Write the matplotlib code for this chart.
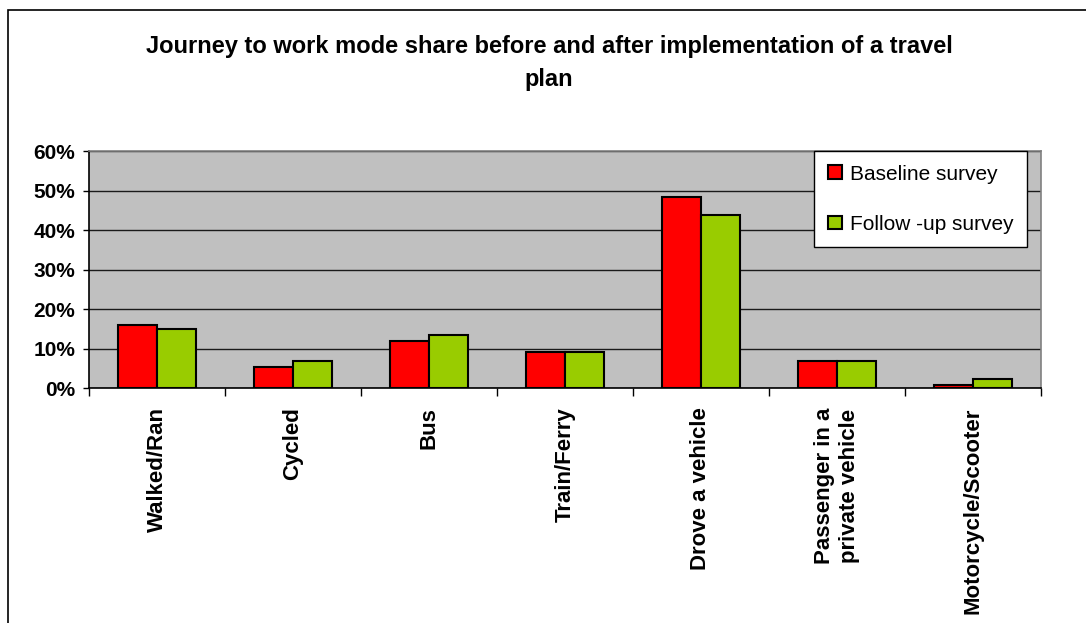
import numpy as np
import matplotlib
matplotlib.use("Agg")
import matplotlib.pyplot as plt
import matplotlib.ticker as ticker
from matplotlib.patches import Rectangle

plt.rcParams.update({
    "font.family": "Liberation Sans",
    "font.weight": "bold",
})

TITLE = "Journey to work mode share before and after implementation of a travel\nplan"

modes = [
    "Walked/Ran",
    "Cycled",
    "Bus",
    "Train/Ferry",
    "Drove a vehicle",
    "Passenger in a\nprivate vehicle",
    "Motorcycle/Scooter",
]
baseline = [16.0, 5.4, 11.8, 9.0, 48.3, 6.9, 0.8]
follow_up = [14.9, 6.9, 13.4, 9.0, 43.7, 6.9, 2.3]
series_names = ["Baseline survey", "Follow -up survey"]

RED = "#FF0000"
GREEN = "#99CC00"
PLOT_BG = "#C0C0C0"
BAR_W = 0.285

fig = plt.figure(figsize=(10.86, 6.23), dpi=100)
ax = fig.add_axes([89 / 1086, 1 - 388 / 623, (1041 - 89) / 1086, (388 - 151) / 623])
ax.set_facecolor(PLOT_BG)

centers = np.arange(len(modes)) + 0.5
ax.bar(centers - BAR_W / 2, baseline, BAR_W, color=RED, edgecolor="black",
       linewidth=1.5, label=series_names[0], zorder=3)
ax.bar(centers + BAR_W / 2, follow_up, BAR_W, color=GREEN, edgecolor="black",
       linewidth=1.5, label=series_names[1], zorder=3)

ax.set_xlim(0, len(modes))
ax.set_ylim(0, 60)

# y axis: percentages with black gridlines
ax.yaxis.set_major_locator(ticker.MultipleLocator(10))
ax.yaxis.set_major_formatter(ticker.FuncFormatter(lambda v, pos: f"{int(v)}%"))
ax.grid(axis="y", color="#1a1a1a", linewidth=1.0, zorder=1)
ax.set_axisbelow(True)
ax.tick_params(axis="y", length=4, width=1, pad=6, labelsize=15)

# x axis: ticks on category boundaries, labels in the middle
ax.xaxis.set_major_locator(ticker.FixedLocator(np.arange(len(modes) + 1)))
ax.xaxis.set_major_formatter(ticker.NullFormatter())
ax.xaxis.set_minor_locator(ticker.FixedLocator(centers))
ax.xaxis.set_minor_formatter(ticker.FixedFormatter(modes))
ax.tick_params(axis="x", which="major", length=6, width=1)
ax.tick_params(axis="x", which="minor", length=0, pad=14, labelsize=16)
for lbl in ax.get_xticklabels(minor=True):
    lbl.set_rotation(90)
    lbl.set_multialignment("center")

ax.spines["left"].set_color("black")
ax.spines["bottom"].set_color("black")
ax.spines["top"].set_color("#808080")
ax.spines["right"].set_color("#808080")
for s in ax.spines.values():
    s.set_linewidth(1.2)

leg = ax.legend(loc="upper right", bbox_to_anchor=(1027 / 1086, 1 - 151 / 623),
                bbox_transform=fig.transFigure, fontsize=15, frameon=True,
                fancybox=False, edgecolor="black", framealpha=1.0,
                handlelength=0.65, handleheight=0.65, handletextpad=0.4,
                labelspacing=1.5, borderpad=0.65, borderaxespad=0)
leg.get_frame().set_linewidth(1.0)
for t in leg.get_texts():
    t.set_fontweight("normal")

fig.text(549 / 1086, 1 - 63 / 623, TITLE, ha="center", va="center",
         fontsize=17, fontweight="bold", linespacing=1.6)

# chart area border
fig.patches.append(Rectangle((8 / 1086, -0.2), 1.2, 0.2 + (623 - 10) / 623,
                             transform=fig.transFigure, fill=False,
                             edgecolor="black", linewidth=1.2))

fig.savefig("out.png", dpi=100)
